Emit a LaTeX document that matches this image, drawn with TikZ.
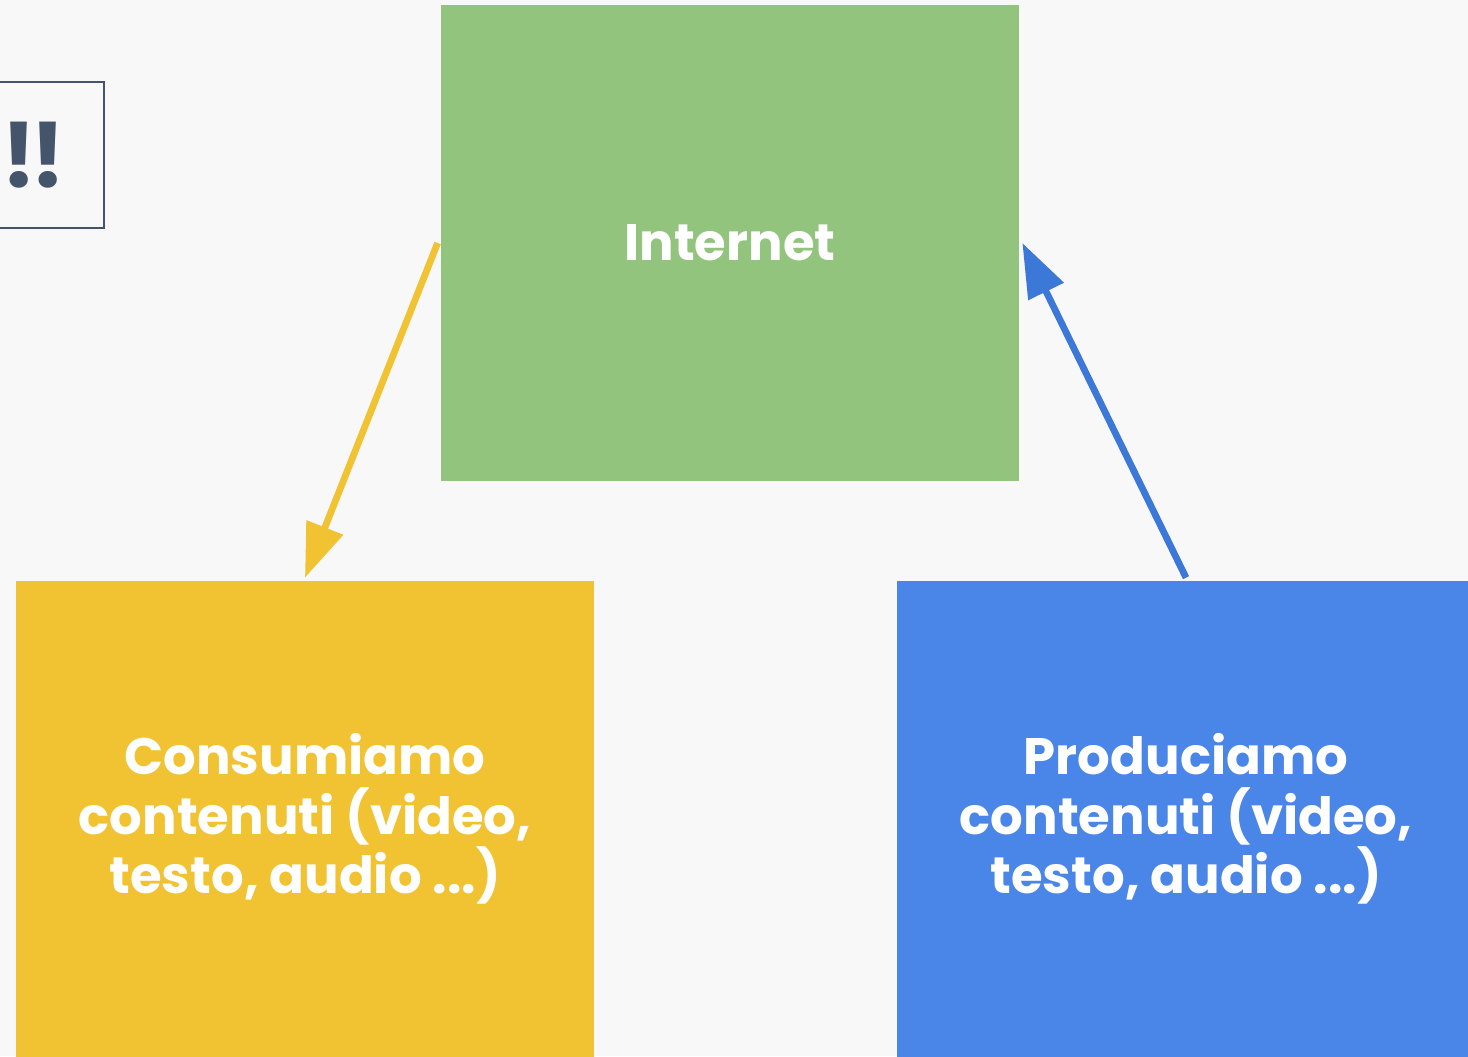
\documentclass[tikz,border=0pt]{standalone}
\usepackage{fontspec}
\setmainfont{Poppins}
\usetikzlibrary{arrows.meta}

\definecolor{bgpaper}{HTML}{F8F8F8}
\definecolor{netgreen}{HTML}{93C47D}
\definecolor{consyellow}{HTML}{F1C232}
\definecolor{prodblue}{HTML}{4A86E8}
\definecolor{arrowblue}{HTML}{3C78D8}
\definecolor{slate}{HTML}{44546A}

\begin{document}
\begin{tikzpicture}[
        ->, % Arrow style
        > = {Triangle[length=1.35cm,width=0.95cm]}, % arrow head style
        line width = 4.8pt, % line style
        node distance = 22.025cm % distance between the two lower boxes
      ]

      \tikzstyle{box}=[rectangle,minimum width=14.45cm,minimum height=11.9cm,
        inner sep=0pt,text=white,align=center,font=\bfseries\fontsize{36.5}{42.5}\selectfont]

      \fill[bgpaper] (0,0) rectangle (36.7,-26.4);
      \useasboundingbox (0,0) rectangle (36.7,-26.4);
      \clip (0,0) rectangle (36.7,-26.4);

      \node[box,fill=netgreen] (net) at (18.25,-6.075) {Internet};
      \node[box,fill=consyellow] (cons) at (7.625,-20.475) {Consumiamo\\contenuti (video,\\testo, audio ...)};
      \node[box,fill=prodblue] (prod) [right of=cons] {Produciamo\\contenuti (video,\\testo, audio ...)};

      % note box cut off on the left
      \node[draw=slate,line width=1.2pt,anchor=east,minimum height=3.65cm,
        inner xsep=0.97cm,text=slate,font=\bfseries\fontsize{64}{70}\selectfont] (warn)
        at (2.625,-3.875) {!\kern-4.5pt!\kern-4.5pt!};

      \path (net.west) edge [consyellow] (cons.north);
      \path (prod.north) edge [arrowblue] (net.east);

    \end{tikzpicture}
\end{document}
